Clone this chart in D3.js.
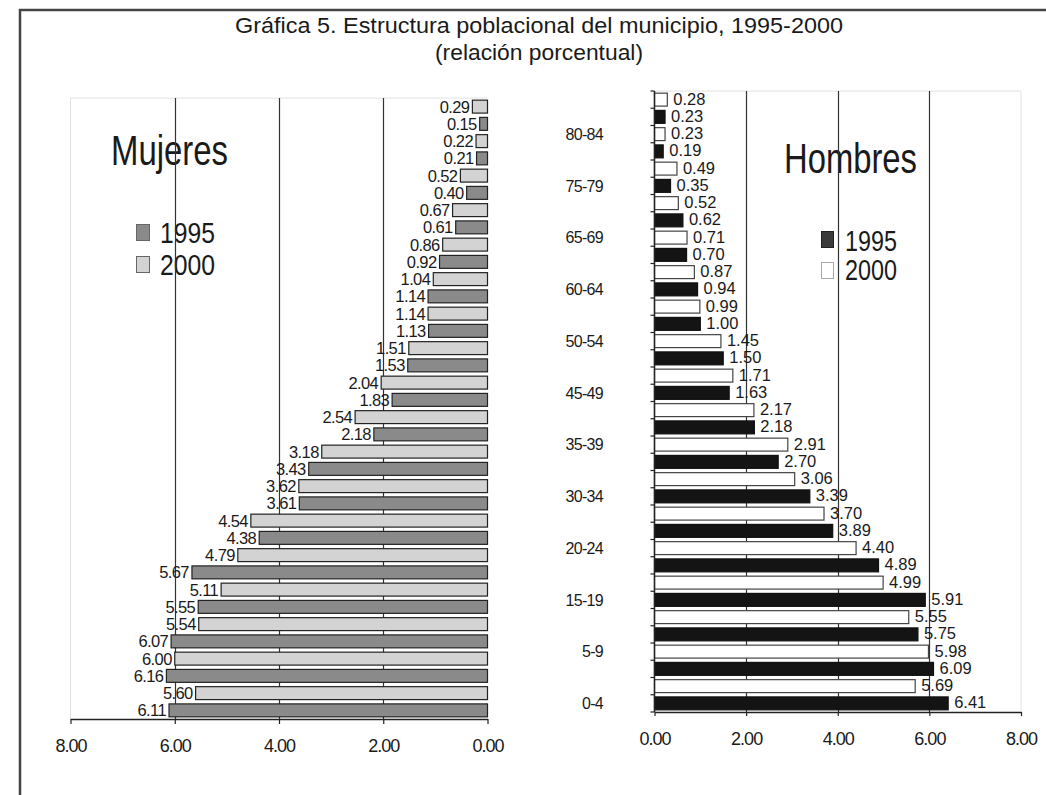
<!DOCTYPE html>
<html>
<head>
<meta charset="utf-8">
<script src="https://cdn.jsdelivr.net/npm/d3@7"></script>
<style>
  html, body { margin: 0; padding: 0; background: #fff; }
  svg { display: block; font-family: "Liberation Sans", Arial, sans-serif; }
</style>
</head>
<body>
<svg id="chart" width="1046" height="795"></svg>
<script>
// ---------- data ----------
const ageGroups = ["0-4","5-9","10-14","15-19","20-24","25-29","30-34","35-39","40-44",
                   "45-49","50-54","55-59","60-64","65-69","70-74","75-79","80-84","85+"];
const seriesNames = ["1995", "2000"];
const mujeres1995 = [6.11,6.16,6.07,5.55,5.67,4.38,3.61,3.43,2.18,1.83,1.53,1.13,1.14,0.92,0.61,0.40,0.21,0.15];
const mujeres2000 = [5.60,6.00,5.54,5.11,4.79,4.54,3.62,3.18,2.54,2.04,1.51,1.14,1.04,0.86,0.67,0.52,0.22,0.29];
const hombres1995 = [6.41,6.09,5.75,5.91,4.89,3.89,3.39,2.70,2.18,1.63,1.50,1.00,0.94,0.70,0.62,0.35,0.19,0.23];
const hombres2000 = [5.69,5.98,5.55,4.99,4.40,3.70,3.06,2.91,2.17,1.71,1.45,0.99,0.87,0.71,0.52,0.49,0.23,0.28];
const xTicks = [0, 2, 4, 6, 8];
const titleLines = ["Gráfica 5. Estructura poblacional del municipio, 1995-2000", "(relación porcentual)"];

// rows: each age group appears twice (1995 then 2000), bottom to top
function buildRows(a, b) {
  const rows = [];
  ageGroups.forEach((g, i) => {
    rows.push({ idx: rows.length, group: g, series: "1995", value: a[i] });
    rows.push({ idx: rows.length, group: g, series: "2000", value: b[i] });
  });
  return rows;
}
const rowsM = buildRows(mujeres1995, mujeres2000);
const rowsH = buildRows(hombres1995, hombres2000);

const svg = d3.select("#chart");
const fmt = d3.format(".2f");
const ink = "#1a1a1a";

// ---------- frame ----------
svg.append("path").attr("d", "M20,795 L20,10 L1046,10")
  .attr("fill", "none").attr("stroke", "#444").attr("stroke-width", 2.5);

// ---------- title ----------
svg.append("text").attr("x", 539).attr("y", 33).attr("text-anchor", "middle")
  .attr("font-size", 22).attr("fill", ink)
  .attr("textLength", 608).attr("lengthAdjust", "spacingAndGlyphs").text(titleLines[0]);
svg.append("text").attr("x", 539).attr("y", 60).attr("text-anchor", "middle")
  .attr("font-size", 22).attr("fill", ink)
  .attr("textLength", 208).attr("lengthAdjust", "spacingAndGlyphs").text(titleLines[1]);

// ================= LEFT PANEL (Mujeres) =================
const L = { left: 70.5, right: 487.5, top: 98, bottom: 719 };
const xL = d3.scaleLinear().domain([8, 0]).range([L.left, L.right]);
const yL = d3.scaleBand().domain(d3.range(36).reverse()).range([L.top, L.bottom])
  .paddingInner(0.25).paddingOuter(0.125);
const colM = { "1995": "#8a8a8a", "2000": "#d3d3d3" };

const gL = svg.append("g");
gL.append("path").attr("d", `M${L.left},${L.bottom} L${L.left},${L.top} L${L.right},${L.top}`)
  .attr("fill", "none").attr("stroke", "#e2e2e2").attr("stroke-width", 1);

// legend
gL.append("text").attr("x", 111).attr("y", 165).attr("font-size", 42).attr("fill", ink)
  .attr("textLength", 117).attr("lengthAdjust", "spacingAndGlyphs").text("Mujeres");
seriesNames.forEach((s, i) => {
  gL.append("rect").attr("x", 136.5).attr("y", 224.5 + i * 32).attr("width", 13).attr("height", 16)
    .attr("fill", colM[s]).attr("stroke", "#666");
  gL.append("text").attr("x", 160).attr("y", 243 + i * 32).attr("font-size", 29).attr("fill", ink)
    .attr("textLength", 55).attr("lengthAdjust", "spacingAndGlyphs").text(s);
});

// gridlines
gL.selectAll("line.grid").data([2, 4, 6]).join("line").attr("class", "grid")
  .attr("x1", d => Math.round(xL(d)) + 0.5).attr("x2", d => Math.round(xL(d)) + 0.5)
  .attr("y1", L.top).attr("y2", L.bottom).attr("stroke", "#333").attr("stroke-width", 1.2);

// bars
gL.selectAll("rect.bar").data(rowsM).join("rect").attr("class", "bar")
  .attr("x", d => xL(d.value)).attr("width", d => xL(0) - xL(d.value))
  .attr("y", d => yL(d.idx)).attr("height", yL.bandwidth())
  .attr("fill", d => colM[d.series]).attr("stroke", "#222").attr("stroke-width", 1.2);

// labels
gL.selectAll("text.lbl").data(rowsM).join("text").attr("class", "lbl")
  .attr("x", d => xL(d.value) - 3).attr("y", d => yL(d.idx) + yL.bandwidth() / 2)
  .attr("dy", "0.36em").attr("text-anchor", "end").attr("font-size", 16.5).attr("fill", ink)
  .attr("letter-spacing", -0.6).text(d => fmt(d.value));

// x axis
const axL = gL.append("g").attr("transform", `translate(0,${L.bottom})`)
  .call(d3.axisBottom(xL).tickValues(xTicks).tickFormat(fmt).tickSizeInner(5).tickSizeOuter(0));
axL.select(".domain").attr("stroke", "#222").attr("stroke-width", 1.5);
axL.selectAll(".tick line").attr("stroke", "#222").attr("stroke-width", 1.2);
axL.selectAll(".tick text").attr("font-size", 18).attr("fill", ink).attr("letter-spacing", -1)
  .attr("y", 20).attr("font-family", "'Liberation Sans', Arial, sans-serif");

// ================= RIGHT PANEL (Hombres) =================
const R = { left: 654.5, right: 1021, top: 91, bottom: 712 };
const xR = d3.scaleLinear().domain([0, 8]).range([R.left, R.right]);
const yR = d3.scaleBand().domain(d3.range(36).reverse()).range([R.top, R.bottom])
  .paddingInner(0.25).paddingOuter(0.125);
const colH = { "1995": "#141414", "2000": "#ffffff" };
const strokeH = { "1995": "#111", "2000": "#444" };

const gR = svg.append("g");
gR.append("path").attr("d", `M${R.left},${R.top} L${R.right},${R.top} L${R.right},${R.bottom}`)
  .attr("fill", "none").attr("stroke", "#e2e2e2").attr("stroke-width", 1);

// legend
gR.append("text").attr("x", 784).attr("y", 173).attr("font-size", 42).attr("fill", ink)
  .attr("textLength", 133).attr("lengthAdjust", "spacingAndGlyphs").text("Hombres");
seriesNames.forEach((s, i) => {
  gR.append("rect").attr("x", 821.5).attr("y", 231.5 + i * 31).attr("width", 12).attr("height", 16)
    .attr("fill", s === "1995" ? "#3a3a3a" : "#fff").attr("stroke", s === "1995" ? "#222" : "#aaa");
  gR.append("text").attr("x", 845).attr("y", 251 + i * 29).attr("font-size", 29).attr("fill", ink)
    .attr("textLength", 52).attr("lengthAdjust", "spacingAndGlyphs").text(s);
});

// gridlines
gR.selectAll("line.grid").data([2, 4, 6]).join("line").attr("class", "grid")
  .attr("x1", d => Math.round(xR(d)) + 0.5).attr("x2", d => Math.round(xR(d)) + 0.5)
  .attr("y1", R.top).attr("y2", R.bottom).attr("stroke", "#333").attr("stroke-width", 1.2);

// bars
gR.selectAll("rect.bar").data(rowsH).join("rect").attr("class", "bar")
  .attr("x", xR(0)).attr("width", d => xR(d.value) - xR(0))
  .attr("y", d => yR(d.idx)).attr("height", yR.bandwidth())
  .attr("fill", d => colH[d.series]).attr("stroke", d => strokeH[d.series]).attr("stroke-width", 1.2);

// labels
gR.selectAll("text.lbl").data(rowsH).join("text").attr("class", "lbl")
  .attr("x", d => xR(d.value) + 6).attr("y", d => yR(d.idx) + yR.bandwidth() / 2 - 1)
  .attr("dy", "0.36em").attr("text-anchor", "start").attr("font-size", 16.5).attr("fill", ink)
  .text(d => fmt(d.value));

// y axis line + boundary ticks
gR.append("line").attr("x1", R.left).attr("x2", R.left).attr("y1", R.top).attr("y2", R.bottom)
  .attr("stroke", "#222").attr("stroke-width", 1.5);
const step = yR.step();
const boundaries = d3.range(37).map(i => R.bottom - i * step);
gR.selectAll("line.ytick").data(boundaries).join("line").attr("class", "ytick")
  .attr("x1", R.left - 4).attr("x2", R.left).attr("y1", d => d).attr("y2", d => d)
  .attr("stroke", "#222").attr("stroke-width", 1.2);
// category labels (every third row)
const labelRows = rowsH.filter(d => d.idx % 3 === 0);
gR.selectAll("text.cat").data(labelRows).join("text").attr("class", "cat")
  .attr("x", 603).attr("y", d => yR(d.idx) + yR.bandwidth() / 2).attr("dy", "0.36em")
  .attr("text-anchor", "end").attr("font-size", 16).attr("fill", ink).attr("letter-spacing", -0.7)
  .text(d => d.group);

// x axis
const axR = gR.append("g").attr("transform", `translate(0,${R.bottom})`)
  .call(d3.axisBottom(xR).tickValues(xTicks).tickFormat(fmt).tickSizeInner(4).tickSizeOuter(0));
axR.select(".domain").attr("stroke", "#222").attr("stroke-width", 1.5);
axR.selectAll(".tick line").attr("stroke", "#222").attr("stroke-width", 1.2);
axR.selectAll(".tick text").attr("font-size", 18).attr("fill", ink).attr("letter-spacing", -1)
  .attr("y", 20).attr("font-family", "'Liberation Sans', Arial, sans-serif");
</script>
</body>
</html>
